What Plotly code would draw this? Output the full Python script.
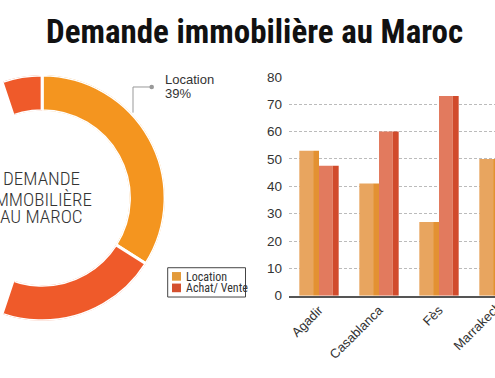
import plotly.graph_objects as go

# ---------------- data ----------------
title_text = "Demande immobilière au Maroc"
center_lines = ["DEMANDE", "IMMOBILIÈRE", "AU MAROC"]

donut_labels = ["Location", "Achat/ Vente"]
donut_values = [34, 66]          # slice shares as drawn
callout_name = "Location"
callout_value = "39%"             # label printed on the chart

categories = ["Agadir", "Casablanca", "Fès", "Marrakech"]
location_vals = [53, 41, 27, 50]
achat_vals = [47.5, 60, 73, 50]
y_ticks = [0, 10, 20, 30, 40, 50, 60, 70, 80]

# ---------------- styling ----------------
W, H = 495, 378
def px(x): return x / W
def py(y): return 1 - y / H

NARROW = "Roboto Condensed, Noto Sans Condensed, Open Sans Condensed, Liberation Sans Narrow, Roboto, sans-serif"
SANS = "Liberation Sans, Arial, sans-serif"

donut_colors = ["#F4951F", "#EF5A2A"]
loc_front, loc_side = "#E8A55F", "#E39132"
ach_front, ach_side = "#E27A5E", "#D14B2C"
legend_colors = ["#E39A3A", "#D4502F"]

fig = go.Figure()

# ---------------- donut (barpolar) ----------------
total = sum(donut_values)
widths = [v / total * 360 for v in donut_values]
mids, acc = [], 0
for w in widths:
    mids.append(acc + w / 2)
    acc += w
for lab, th, wd, col in zip(donut_labels, mids, widths, donut_colors):
    fig.add_trace(go.Barpolar(
        r=[1], theta=[th], width=[wd], name=lab,
        marker=dict(color=col, line=dict(color="white", width=3)),
        showlegend=False, hoverinfo="skip",
    ))

# ---------------- bars ----------------
bar_specs = [
    (location_vals, loc_front, -0.328, 0.23),
    (location_vals, loc_side, -0.098, 0.098),
    (achat_vals, ach_front, 0.0, 0.23),
    (achat_vals, ach_side, 0.23, 0.098),
]
for vals, col, off, wd in bar_specs:
    fig.add_trace(go.Bar(
        x=categories, y=vals, offset=off, width=wd,
        marker=dict(color=col, line=dict(width=0)),
        showlegend=False, hoverinfo="skip",
        xaxis="x", yaxis="y",
    ))

x0_px = 289
unit_px = 60
x_end = (W - x0_px) / unit_px - 0.5

fig.update_layout(
    width=W, height=H,
    margin=dict(l=0, r=0, t=0, b=0),
    paper_bgcolor="white", plot_bgcolor="white",
    showlegend=False,
    barmode="overlay",
    polar=dict(
        domain=dict(x=[0, px(168.4)], y=[py(326.8), py(70.8)]),
        sector=[-108.4, 108.4],
        hole=0.71,
        bgcolor="rgba(0,0,0,0)",
        radialaxis=dict(visible=False, range=[0, 1]),
        angularaxis=dict(visible=False, rotation=90, direction="clockwise"),
    ),
    xaxis=dict(
        domain=[px(x0_px), 1.0],
        range=[-0.5, x_end],
        type="category",
        showgrid=False,
        showline=True, linecolor="#555", linewidth=1.5,
        ticks="", tickangle=-45,
        tickfont=dict(family=SANS, size=13, color="#333"),
        fixedrange=True,
    ),
    yaxis=dict(
        domain=[py(300.7), py(72.7)],
        range=[0, 80],
        tickvals=y_ticks,
        showgrid=True, gridcolor="#BBBBBB", gridwidth=1, griddash="3px,2px",
        zeroline=False, showline=False, ticks="",
        ticklabelstandoff=6,
        tickfont=dict(family=SANS, size=13.5, color="#333"),
        fixedrange=True,
    ),
)

annotations = []
# title
annotations.append(dict(
    text="<b>%s</b>" % title_text, x=px(254.5), y=py(25.5),
    xref="paper", yref="paper", xanchor="center", yanchor="middle",
    showarrow=False, font=dict(family=NARROW, size=33, color="#111"),
))
# center text of the donut
for line, yc in zip(center_lines, [178.7, 200.3, 218.2]):
    annotations.append(dict(
        text=line, x=px(41), y=py(yc), xref="paper", yref="paper",
        xanchor="center", yanchor="middle", showarrow=False,
        font=dict(family=NARROW, size=19, color="#333", weight=300),
    ))
# callout label
for txt, yc in zip([callout_name, callout_value], [75.5, 90.5]):
    annotations.append(dict(
        text=txt, x=px(162.5), y=py(yc), xref="paper", yref="paper",
        xanchor="left", yanchor="middle", showarrow=False,
        font=dict(family=SANS, size=13, color="#333"),
    ))
# legend texts
for txt, yc in zip(donut_labels, [280.8, 292.8]):
    annotations.append(dict(
        text=txt, x=px(183.5), y=py(yc), xref="paper", yref="paper",
        xanchor="left", yanchor="middle", showarrow=False,
        font=dict(family=NARROW, size=12, color="#333"),
    ))
# last category label (its tick falls just past the visible edge, as in the reference)
annotations.append(dict(
    text=categories[3], x=px(507), y=py(301.7), xref="paper", yref="paper",
    xanchor="right", yanchor="top", textangle=-45, showarrow=False,
    font=dict(family=SANS, size=13, color="#333"),
))
fig.update_layout(annotations=annotations)

shapes = [
    # callout leader
    dict(type="path", xref="paper", yref="paper",
         path="M %f,%f L %f,%f L %f,%f" % (px(133), py(110), px(133), py(83.3), px(151.7), py(83.3)),
         line=dict(color="#999", width=1)),
    dict(type="circle", xref="paper", yref="paper",
         x0=px(149.4), x1=px(154), y0=py(85.6), y1=py(81),
         fillcolor="#999", line=dict(width=0)),
    # legend frame
    dict(type="rect", xref="paper", yref="paper",
         x0=px(167.7), x1=px(245.5), y0=py(302), y1=py(271.5),
         line=dict(color="#444", width=1), fillcolor="white"),
]
for col, yt in zip(legend_colors, [276, 288]):
    shapes.append(dict(type="rect", xref="paper", yref="paper",
                       x0=px(172), x1=px(181), y0=py(yt + 9), y1=py(yt),
                       fillcolor=col, line=dict(width=0)))
fig.update_layout(shapes=shapes)

fig.write_html("out.html", config={"displayModeBar": False},
               post_script="document.body.style.margin='0px';")
